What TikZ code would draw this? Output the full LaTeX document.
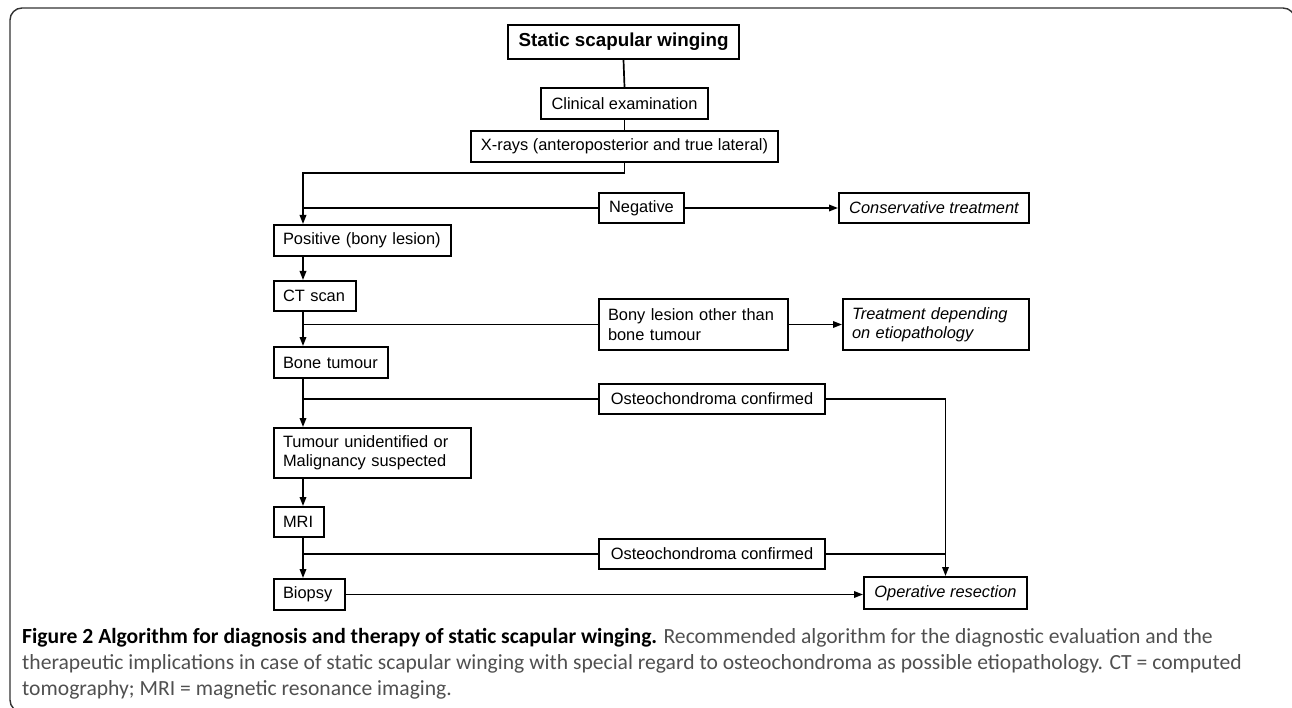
\documentclass[tikz,border=0pt]{standalone}
\usepackage{fontspec}
\setmainfont{Liberation Sans}
\newfontfamily\capfont{Carlito}
\usetikzlibrary{arrows.meta}
\definecolor{capgray}{HTML}{505050}
\definecolor{framegray}{HTML}{333333}

\begin{document}
\begin{tikzpicture}[x=1pt,y=-1pt,
    box/.style={draw,line width=2pt,inner xsep=9pt,inner ysep=0pt,align=center,
      font=\fontsize{16.4}{19.3}\selectfont},
    lbox/.style={box,align=left},
    link/.style={line width=1.7pt},
    arr/.style={link,-{Triangle[length=9pt,width=6.5pt]}},
    capline/.style={anchor=base west,inner sep=0pt,text=capgray,
      font=\capfont\fontsize{21.6}{26}\selectfont}]
    \useasboundingbox (0,0) rectangle (1292,708);
    % outer frame
    \draw[line width=1.4pt,draw=framegray,rounded corners=12pt]
      (40,712) -- (10,712) -- (10,8) -- (1295,8) -- (1295,40);
    % top chain
    \node[box,font=\bfseries\fontsize{18.8}{22}\selectfont,minimum width=231pt,minimum height=34pt] (start) at (623.5,42) {Static scapular winging};
    \node[box,minimum width=167pt,minimum height=31pt] (clin) at (624.5,103.5) {Clinical examination};
    \node[box,minimum width=307pt,minimum height=31pt] (xray) at (624.5,146.5) {X-rays (anteroposterior and true lateral)};
    % main column
    \node[lbox,text width=159pt,minimum height=31pt] (pos) at (362.5,240.5) {Positive (bony lesion)};
    \node[lbox,text width=64pt,minimum height=30pt] (ct) at (315,296) {CT scan};
    \node[lbox,text width=96pt,minimum height=31pt] (bone) at (331,362.5) {Bone tumour};
    \node[lbox,text width=179pt,minimum height=50pt] (tum) at (372.5,453) {Tumour unidentified or\\Malignancy suspected};
    \node[lbox,text width=32pt,minimum height=30pt] (mri) at (299,522) {MRI};
    \node[lbox,text width=53pt,minimum height=31pt] (bio) at (309.5,594.5) {Biopsy};
    % side branches
    \node[box,minimum width=85pt,minimum height=30pt] (neg) at (641.5,208) {Negative};
    \node[lbox,text width=171pt,minimum height=51pt] (bony) at (693.5,324.5) {Bony lesion other than\\bone tumour};
    \node[box,minimum width=226pt,minimum height=30pt] (osA) at (712,399) {Osteochondroma confirmed};
    \node[box,minimum width=226pt,minimum height=30pt] (osB) at (712,554) {Osteochondroma confirmed};
    % outcomes
    \node[box,font=\itshape\fontsize{16.4}{19.3}\selectfont,minimum width=190pt,minimum height=30pt] (cons) at (934,208) {Conservative treatment};
    \node[lbox,font=\itshape\fontsize{16.4}{19.3}\selectfont,text width=168pt,minimum height=51pt] (treat) at (936,324.5) {Treatment depending\\on etiopathology};
    \node[box,font=\itshape\fontsize{16.4}{19.3}\selectfont,minimum width=163pt,minimum height=32pt] (oper) at (945.5,593) {Operative resection};
    % connectors
    \coordinate (k1) at (303,173);
    \draw[link] (start.south) -- (clin.north);
    \draw[link] (clin.south) -- (xray.north);
    \draw[arr] (xray.south) |- (k1) -- (k1 |- pos.north);
    \draw[link] (neg.west) -- (neg.west -| k1);
    \draw[arr] (neg.east) -- (cons.west);
    \draw[arr] (pos.south -| k1) -- (ct.north -| k1);
    \draw[arr] (ct.south -| k1) -- (bone.north -| k1);
    \draw[link] (bony.west) -- (bony.west -| k1);
    \draw[arr] (bony.east) -- (treat.west);
    \draw[arr] (bone.south -| k1) -- (tum.north -| k1);
    \draw[link] (osA.west) -- (osA.west -| k1);
    \draw[arr] (osA.east) -| (oper.north);
    \draw[arr] (tum.south -| k1) -- (mri.north -| k1);
    \draw[arr] (mri.south -| k1) -- (bio.north -| k1);
    \draw[link] (osB.west) -- (osB.west -| k1);
    \draw[link] (osB.east) -- (osB.east -| oper.north);
    \draw[arr] (bio.east) -- (bio.east -| oper.west);
    % caption
    \node[capline] (cap1) at (22,643) {\textbf{\color{black}Figure 2 Algorithm for diagnosis and therapy of static scapular winging.} Recommended algorithm for the diagnostic evaluation and the};
    \node[capline] (cap2) at (22,669) {therapeutic implications in case of static scapular winging with special regard to osteochondroma as possible etiopathology. CT = computed};
    \node[capline] (cap3) at (22,695) {tomography; MRI = magnetic resonance imaging.};
\end{tikzpicture}
\end{document}
